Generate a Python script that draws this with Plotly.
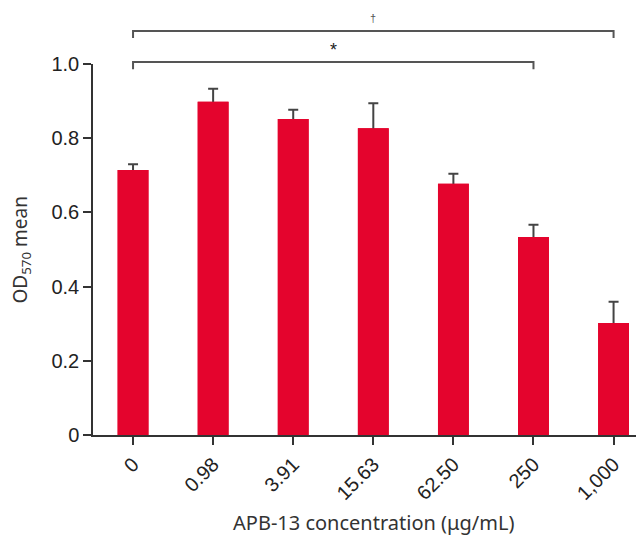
import plotly.graph_objects as go

categories = ["0", "0.98", "3.91", "15.63", "62.50", "250", "1,000"]
means = [0.714, 0.898, 0.852, 0.827, 0.677, 0.534, 0.302]
errors = [0.016, 0.035, 0.025, 0.067, 0.027, 0.033, 0.057]
y_ticks = [0, 0.2, 0.4, 0.6, 0.8, 1.0]
y_tick_labels = ["0", "0.2", "0.4", "0.6", "0.8", "1.0"]

BAR = "#e4042d"
AX = "#333333"
xs = list(range(len(categories)))

fig = go.Figure()
# bars with symmetric error bars (lower half hidden by the overlaid bars)
fig.add_trace(go.Bar(
    x=xs, y=means,
    marker=dict(color=BAR, line=dict(width=0)),
    width=0.385,
    error_y=dict(type="data", array=errors, symmetric=True,
                 color="#444444", thickness=2, width=5),
    showlegend=False, hoverinfo="skip",
))
fig.add_trace(go.Bar(
    x=xs, y=means,
    marker=dict(color=BAR, line=dict(width=0)),
    width=0.385,
    showlegend=False,
))

# significance brackets
brackets = [(0, 5, 1.0054, 0.986), (0, 6, 1.0889, 1.070)]
for x0, x1, ytop, ybot in brackets:
    fig.add_shape(type="path", xref="x", yref="paper",
                  path=f"M {x0} {ybot} L {x0} {ytop} L {x1} {ytop} L {x1} {ybot}",
                  line=dict(color="#555555", width=2))

fig.add_annotation(x=2.5, y=1.037, xref="x", yref="paper", text="*", showarrow=False,
                   font=dict(family="Liberation Sans", size=18, color="#222222"),
                   xanchor="center", yanchor="middle")
fig.add_annotation(x=3, y=1.125, xref="x", yref="paper", text="†", showarrow=False,
                   font=dict(family="Liberation Sans", size=11, color="#555555"),
                   xanchor="center", yanchor="middle")

# axis titles
fig.add_annotation(x=3, y=-0.235, xref="x", yref="paper", text="APB-13 concentration (μg/mL)",
                   showarrow=False, font=dict(family="Noto Sans", size=20, color="#333333"),
                   xanchor="center", yanchor="middle")
fig.add_annotation(x=-0.1307, y=0.5, xref="paper", yref="paper", text="OD<sub>570</sub> mean",
                   textangle=-90, showarrow=False,
                   font=dict(family="Noto Sans", size=19, color="#333333"),
                   xanchor="center", yanchor="middle")

fig.update_layout(
    width=636, height=528,
    margin=dict(l=85, r=0, t=56, b=101),
    paper_bgcolor="white", plot_bgcolor="white",
    font=dict(family="Liberation Sans", color="#222222"),
    barmode="overlay",
    xaxis=dict(
        range=[-0.5, 6.38], tickmode="array", tickvals=xs,
        ticktext=categories, tickangle=-45, ticks="outside", ticklen=8, tickwidth=1.5,
        tickcolor=AX, showline=True, linecolor=AX, linewidth=1.5, showgrid=False,
        zeroline=False, tickfont=dict(size=20, color="#222222"),
    ),
    yaxis=dict(
        range=[0, 1.0], tickmode="array", tickvals=y_ticks, ticktext=y_tick_labels,
        ticks="outside", ticklen=8, tickwidth=1.5, tickcolor=AX, showline=True,
        linecolor=AX, linewidth=1.5, showgrid=False, zeroline=False,
        tickfont=dict(size=20, color="#222222"),
    ),
)

fig.write_html("out.html")
